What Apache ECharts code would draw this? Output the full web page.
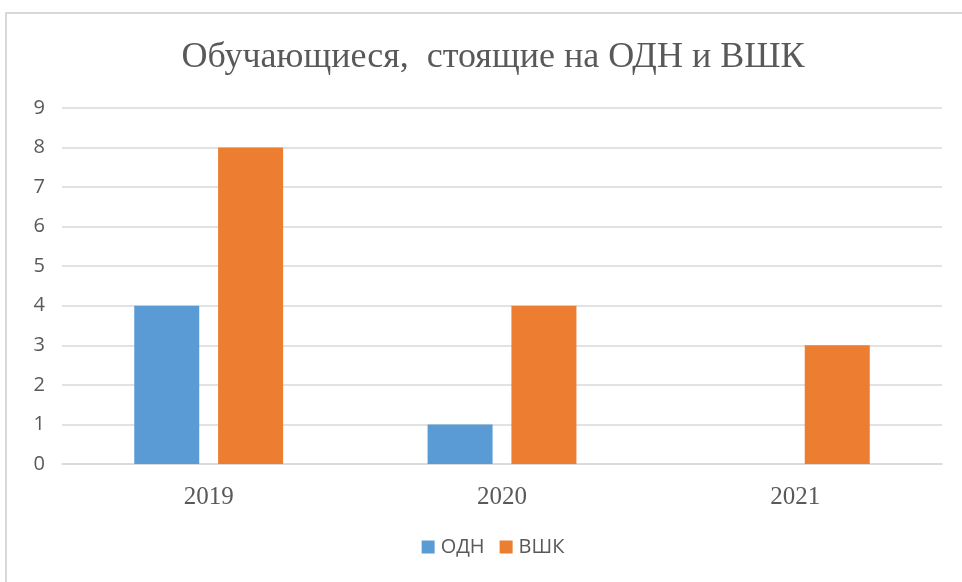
<!DOCTYPE html>
<html>
<head>
<meta charset="utf-8">
<script src="https://cdn.jsdelivr.net/npm/echarts@6/dist/echarts.min.js"></script>
<style>
  html, body { margin: 0; padding: 0; background: #fff; overflow: hidden; }
  #frame { position: absolute; left: 5px; top: 12px; width: 990px; height: 590px;
           border-left: 2px solid #d9d9d9; border-top: 2px solid #d9d9d9; }
  /* the chart box runs past the window's right edge, as in the source */
  #chart { position: absolute; left: 0; top: 0; width: 986px; height: 582px; }
</style>
</head>
<body>
<div id="frame"></div>
<div id="chart"></div>
<script>
const years = ['2019', '2020', '2021'];
const odn = [4, 1, 0];
const vshk = [8, 4, 3];
const yTicks = [0, 1, 2, 3, 4, 5, 6, 7, 8, 9];

const chart = echarts.init(document.getElementById('chart'), null, { renderer: 'canvas' });
chart.setOption({
    animation: false,
    title: {
        text: 'Обучающиеся,  стоящие на ОДН и ВШК',
        left: 'center',
        top: 35,
        textStyle: { fontFamily: 'Liberation Serif', fontSize: 36, fontWeight: 'normal', color: '#595959' },
    },
    legend: {
        bottom: 20,
        left: 'center',
        itemWidth: 13,
        itemHeight: 13,
        itemGap: 15,
        icon: 'rect',
        textStyle: { fontFamily: 'Open Sans', fontSize: 20, color: '#595959', padding: [0, 0, 0, 1] },
        data: ['ОДН', 'ВШК'],
    },
    grid: { left: 62, right: 44, top: 108, bottom: 118 },
    xAxis: {
        type: 'category',
        data: years,
        axisLine: { lineStyle: { color: '#d9d9d9', width: 1.5 } },
        axisTick: { show: false },
        axisLabel: { fontFamily: 'Liberation Serif', fontSize: 25, color: '#595959', margin: 21 },
    },
    yAxis: {
        type: 'value',
        min: 0,
        max: yTicks[yTicks.length - 1],
        interval: 1,
        axisLine: { show: false },
        axisTick: { show: false },
        axisLabel: { fontFamily: 'Open Sans', fontSize: 20, color: '#595959', margin: 17 },
        splitLine: { lineStyle: { color: '#d9d9d9', width: 1.5 } },
    },
    series: [
        { name: 'ОДН', type: 'bar', data: odn, barWidth: 65, barGap: '29%', itemStyle: { color: '#5b9bd5' } },
        { name: 'ВШК', type: 'bar', data: vshk, barWidth: 65, barGap: '29%', itemStyle: { color: '#ed7d31' } },
    ],
});
window.addEventListener('resize', () => chart.resize());
</script>
</body>
</html>
